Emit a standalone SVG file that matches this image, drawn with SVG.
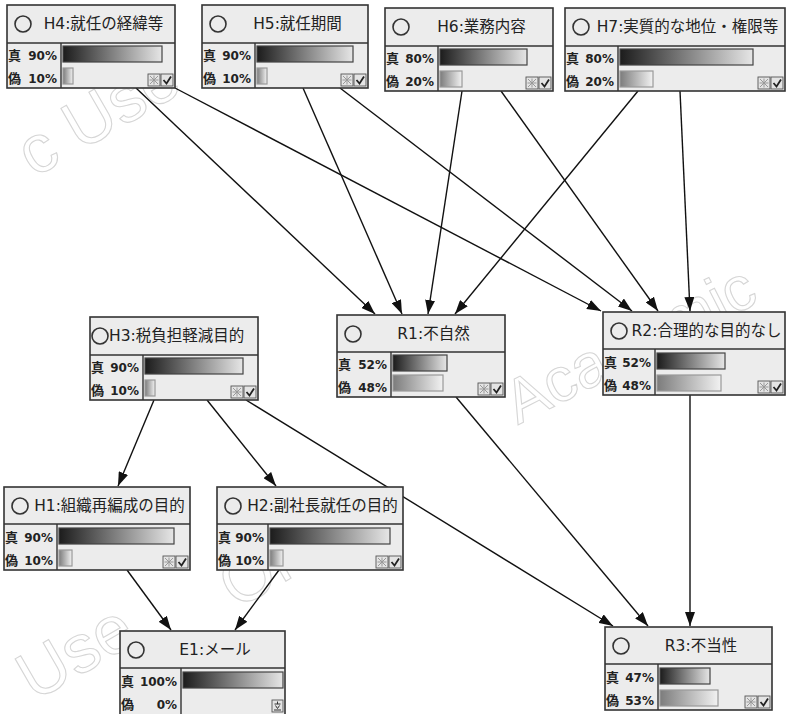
<svg xmlns="http://www.w3.org/2000/svg" xmlns:xlink="http://www.w3.org/1999/xlink" width="787" height="714" viewBox="0 0 787 714">
  <style>
    .wm { font-family: "Liberation Sans", Arial, sans-serif; font-size: 68px; fill: none; stroke: #d6d6d6; stroke-width: 1.1; }
    .edge { stroke: #111; stroke-width: 1.4; fill: none; marker-end: url(#arrow); }
    .box { fill: #ececec; stroke: #333; stroke-width: 1.6; }
    .sep { stroke: #333; stroke-width: 1.4; }
    .dot { fill: none; stroke: #333; stroke-width: 1.6; }
    .title { font-family: "DejaVu Sans", "Noto Sans CJK JP", sans-serif; font-size: 15.5px; fill: #222; text-anchor: middle; }
    .lab { font-family: "Noto Sans CJK JP", sans-serif; font-size: 13px; font-weight: bold; fill: #222; }
    .pct { font-family: "DejaVu Sans", sans-serif; font-size: 12px; font-weight: bold; fill: #222; text-anchor: end; }
    .tbar { fill: url(#gTrue); stroke: #444; stroke-width: 1.2; }
    .fbar { fill: url(#gFalse); stroke: #999; stroke-width: 1.2; }
    .ico { fill: #e4e4e4; stroke: #555; stroke-width: 0.9; }
  </style>
  <defs>
    <linearGradient id="gTrue" x1="0" y1="0" x2="1" y2="0">
      <stop offset="0" stop-color="#1c1c1c"/>
      <stop offset="1" stop-color="#e6e6e6"/>
    </linearGradient>
    <linearGradient id="gFalse" x1="0" y1="0" x2="1" y2="0">
      <stop offset="0" stop-color="#7c7c7c"/>
      <stop offset="1" stop-color="#f2f2f2"/>
    </linearGradient>
    <marker id="arrow" viewBox="0 0 14 10" refX="14" refY="5" markerWidth="14" markerHeight="10" markerUnits="userSpaceOnUse" orient="auto">
      <path d="M0,0 L14,5 L0,10 z" fill="#111"/>
    </marker>
    <!-- small toolbar icons at the bottom-right of each node -->
    <g id="icons">
      <rect class="ico" x="0" y="0" width="12" height="12"/>
      <path d="M2,2 L10,10 M10,2 L2,10 M6,1.5 V10.5 M1.5,6 H10.5" stroke="#999" stroke-width="1"/>
      <rect class="ico" x="13" y="0" width="12" height="12"/>
      <path d="M15.5,6 L18.5,9.5 L23,2.5" stroke="#222" stroke-width="1.8" fill="none"/>
    </g>
    <g id="icon1">
      <rect class="ico" x="0" y="0" width="11" height="12"/>
      <path d="M5.5,1.5 V4 M2.5,4 H8.5 M3.5,5.5 L5.5,8.5 L7.5,5.5 M2,10 H9" stroke="#333" stroke-width="1" fill="none"/>
    </g>
  </defs>

  <!-- background watermark lettering -->
  <g id="watermark">
    <text class="wm" transform="translate(34,178) rotate(-30)">c Use</text>
    <text class="wm" transform="translate(518,425) rotate(-27)" style="font-size:62px">Academic</text>
    <text class="wm" transform="translate(34,702) rotate(-30)">Use</text>
    <text class="wm" transform="translate(236,610) rotate(-30)">Only</text>
  </g>

  <!-- dependency arrows -->
  <g id="connectors">
    <line class="edge" x1="136" y1="88" x2="375" y2="314"/>
    <line class="edge" x1="175" y1="88" x2="601" y2="311"/>
    <line class="edge" x1="303" y1="88" x2="402" y2="314"/>
    <line class="edge" x1="340" y1="88" x2="632" y2="311"/>
    <line class="edge" x1="462" y1="91" x2="428" y2="314"/>
    <line class="edge" x1="501" y1="91" x2="658" y2="311"/>
    <line class="edge" x1="638" y1="91" x2="455" y2="314"/>
    <line class="edge" x1="680" y1="91" x2="690" y2="311"/>
    <line class="edge" x1="154" y1="400" x2="118" y2="486"/>
    <line class="edge" x1="207" y1="400" x2="276" y2="486"/>
    <line class="edge" x1="246" y1="400" x2="613" y2="626"/>
    <line class="edge" x1="456" y1="397" x2="648" y2="626"/>
    <line class="edge" x1="690" y1="395" x2="690" y2="626"/>
    <line class="edge" x1="127" y1="570" x2="171" y2="630"/>
    <line class="edge" x1="279" y1="570" x2="235" y2="630"/>
  </g>

  <!-- H4 -->
  <g id="H4" transform="translate(7,5)">
    <rect class="box" width="168" height="83"/>
    <line class="sep" x1="0" y1="38" x2="168" y2="38"/>
    <line class="sep" x1="54" y1="38" x2="54" y2="83"/>
    <circle class="dot" cx="16" cy="19" r="8"/>
    <text class="title" x="96.5" y="19" dominant-baseline="central">H4:就任の経緯等</text>
    <text class="lab" x="1" y="55">真</text><text class="pct" x="50" y="55">90%</text>
    <text class="lab" x="1" y="78">偽</text><text class="pct" x="50" y="78">10%</text>
    <rect class="tbar" x="56" y="41" width="99" height="16"/>
    <rect class="fbar" x="56" y="63" width="10" height="16"/>
    <use xlink:href="#icons" x="141" y="69"/>
  </g>

  <!-- H5 -->
  <g id="H5" transform="translate(202,5)">
    <rect class="box" width="166" height="83"/>
    <line class="sep" x1="0" y1="38" x2="166" y2="38"/>
    <line class="sep" x1="53" y1="38" x2="53" y2="83"/>
    <circle class="dot" cx="16" cy="19" r="8"/>
    <text class="title" x="95.5" y="19" dominant-baseline="central">H5:就任期間</text>
    <text class="lab" x="1" y="55">真</text><text class="pct" x="49" y="55">90%</text>
    <text class="lab" x="1" y="78">偽</text><text class="pct" x="49" y="78">10%</text>
    <rect class="tbar" x="55" y="41" width="96" height="16"/>
    <rect class="fbar" x="55" y="63" width="10" height="16"/>
    <use xlink:href="#icons" x="139" y="69"/>
  </g>

  <!-- H6 -->
  <g id="H6" transform="translate(385,8)">
    <rect class="box" width="168" height="83"/>
    <line class="sep" x1="0" y1="38" x2="168" y2="38"/>
    <line class="sep" x1="53" y1="38" x2="53" y2="83"/>
    <circle class="dot" cx="16" cy="19" r="8"/>
    <text class="title" x="96.5" y="19" dominant-baseline="central">H6:業務内容</text>
    <text class="lab" x="1" y="55">真</text><text class="pct" x="49" y="55">80%</text>
    <text class="lab" x="1" y="78">偽</text><text class="pct" x="49" y="78">20%</text>
    <rect class="tbar" x="55" y="41" width="87" height="16"/>
    <rect class="fbar" x="55" y="63" width="22" height="16"/>
    <use xlink:href="#icons" x="141" y="69"/>
  </g>

  <!-- H7 -->
  <g id="H7" transform="translate(565,8)">
    <rect class="box" width="220" height="83"/>
    <line class="sep" x1="0" y1="38" x2="220" y2="38"/>
    <line class="sep" x1="53" y1="38" x2="53" y2="83"/>
    <circle class="dot" cx="16" cy="19" r="8"/>
    <text class="title" x="122.5" y="19" dominant-baseline="central">H7:実質的な地位・権限等</text>
    <text class="lab" x="1" y="55">真</text><text class="pct" x="49" y="55">80%</text>
    <text class="lab" x="1" y="78">偽</text><text class="pct" x="49" y="78">20%</text>
    <rect class="tbar" x="55" y="41" width="133" height="16"/>
    <rect class="fbar" x="55" y="63" width="33" height="16"/>
    <use xlink:href="#icons" x="193" y="69"/>
  </g>

  <!-- H3 -->
  <g id="H3" transform="translate(90,317)">
    <rect class="box" width="168" height="83"/>
    <line class="sep" x1="0" y1="38" x2="168" y2="38"/>
    <line class="sep" x1="53" y1="38" x2="53" y2="83"/>
    <circle class="dot" cx="10" cy="19" r="8"/>
    <text class="title" x="19" y="19" dominant-baseline="central" style="text-anchor:start">H3:税負担軽減目的</text>
    <text class="lab" x="1" y="55">真</text><text class="pct" x="49" y="55">90%</text>
    <text class="lab" x="1" y="78">偽</text><text class="pct" x="49" y="78">10%</text>
    <rect class="tbar" x="55" y="41" width="98" height="16"/>
    <rect class="fbar" x="55" y="63" width="10" height="16"/>
    <use xlink:href="#icons" x="141" y="69"/>
  </g>

  <!-- R1 -->
  <g id="R1" transform="translate(337,315)">
    <rect class="box" width="168" height="82"/>
    <line class="sep" x1="0" y1="37" x2="168" y2="37"/>
    <line class="sep" x1="54" y1="37" x2="54" y2="82"/>
    <circle class="dot" cx="16" cy="19" r="8"/>
    <text class="title" x="96.5" y="19" dominant-baseline="central">R1:不自然</text>
    <text class="lab" x="1" y="54">真</text><text class="pct" x="50" y="54">52%</text>
    <text class="lab" x="1" y="77">偽</text><text class="pct" x="50" y="77">48%</text>
    <rect class="tbar" x="56" y="40" width="54" height="16"/>
    <rect class="fbar" x="56" y="60" width="50" height="16"/>
    <use xlink:href="#icons" x="141" y="68"/>
  </g>

  <!-- R2 -->
  <g id="R2" transform="translate(603,312)">
    <rect class="box" width="182" height="83"/>
    <line class="sep" x1="0" y1="37" x2="182" y2="37"/>
    <line class="sep" x1="52" y1="37" x2="52" y2="83"/>
    <circle class="dot" cx="16" cy="19" r="8"/>
    <text class="title" x="103.5" y="19" dominant-baseline="central">R2:合理的な目的なし</text>
    <text class="lab" x="1" y="55">真</text><text class="pct" x="48" y="55">52%</text>
    <text class="lab" x="1" y="78">偽</text><text class="pct" x="48" y="78">48%</text>
    <rect class="tbar" x="54" y="41" width="68" height="16"/>
    <rect class="fbar" x="54" y="63" width="64" height="16"/>
    <use xlink:href="#icons" x="155" y="69"/>
  </g>

  <!-- H1 -->
  <g id="H1" transform="translate(4,487)">
    <rect class="box" width="186" height="83"/>
    <line class="sep" x1="0" y1="37" x2="186" y2="37"/>
    <line class="sep" x1="53" y1="37" x2="53" y2="83"/>
    <circle class="dot" cx="16" cy="19" r="8"/>
    <text class="title" x="105.5" y="19" dominant-baseline="central">H1:組織再編成の目的</text>
    <text class="lab" x="1" y="55">真</text><text class="pct" x="49" y="55">90%</text>
    <text class="lab" x="1" y="78">偽</text><text class="pct" x="49" y="78">10%</text>
    <rect class="tbar" x="55" y="41" width="115" height="16"/>
    <rect class="fbar" x="55" y="63" width="13" height="16"/>
    <use xlink:href="#icons" x="159" y="69"/>
  </g>

  <!-- H2 -->
  <g id="H2" transform="translate(217,487)">
    <rect class="box" width="186" height="83"/>
    <line class="sep" x1="0" y1="37" x2="186" y2="37"/>
    <line class="sep" x1="51" y1="37" x2="51" y2="83"/>
    <circle class="dot" cx="16" cy="19" r="8"/>
    <text class="title" x="105.5" y="19" dominant-baseline="central">H2:副社長就任の目的</text>
    <text class="lab" x="1" y="55">真</text><text class="pct" x="47" y="55">90%</text>
    <text class="lab" x="1" y="78">偽</text><text class="pct" x="47" y="78">10%</text>
    <rect class="tbar" x="53" y="41" width="120" height="16"/>
    <rect class="fbar" x="53" y="63" width="13" height="16"/>
    <use xlink:href="#icons" x="159" y="69"/>
  </g>

  <!-- E1 -->
  <g id="E1" transform="translate(120,631)">
    <rect class="box" width="165" height="85"/>
    <line class="sep" x1="0" y1="37" x2="165" y2="37"/>
    <line class="sep" x1="61" y1="37" x2="61" y2="85"/>
    <circle class="dot" cx="16" cy="19" r="8"/>
    <text class="title" x="95" y="19" dominant-baseline="central">E1:メール</text>
    <text class="lab" x="1" y="55">真</text><text class="pct" x="57" y="55">100%</text>
    <text class="lab" x="1" y="78">偽</text><text class="pct" x="57" y="78">0%</text>
    <rect class="tbar" x="63" y="41" width="100" height="16"/>
    <use xlink:href="#icon1" x="152" y="69"/>
  </g>

  <!-- R3 -->
  <g id="R3" transform="translate(605,627)">
    <rect class="box" width="167" height="83"/>
    <line class="sep" x1="0" y1="37" x2="167" y2="37"/>
    <line class="sep" x1="53" y1="37" x2="53" y2="83"/>
    <circle class="dot" cx="16" cy="19" r="8"/>
    <text class="title" x="96" y="19" dominant-baseline="central">R3:不当性</text>
    <text class="lab" x="1" y="55">真</text><text class="pct" x="49" y="55">47%</text>
    <text class="lab" x="1" y="78">偽</text><text class="pct" x="49" y="78">53%</text>
    <rect class="tbar" x="55" y="41" width="50" height="16"/>
    <rect class="fbar" x="55" y="63" width="58" height="16"/>
    <use xlink:href="#icons" x="140" y="69"/>
  </g>
</svg>
